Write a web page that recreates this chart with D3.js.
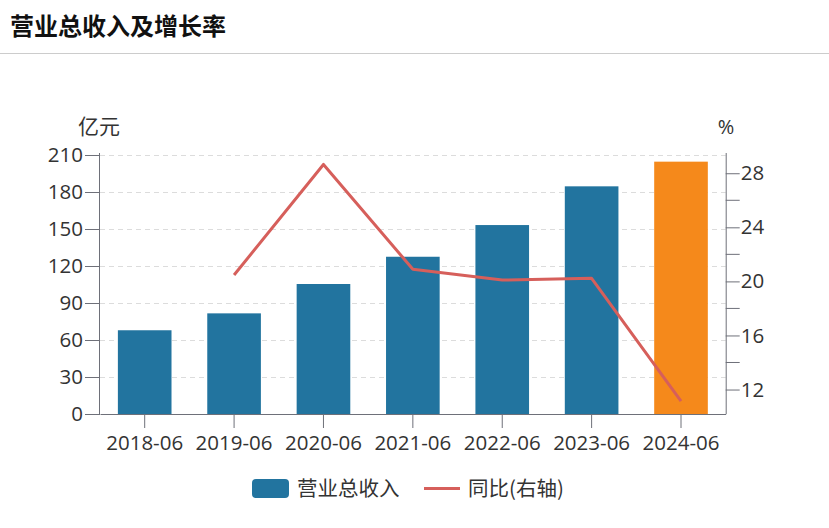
<!DOCTYPE html>
<html>
<head>
<meta charset="utf-8">
<script src="https://cdn.jsdelivr.net/npm/d3@7"></script>
<style>
  html, body { margin: 0; padding: 0; background: #fff; }
  svg { display: block; }
  text { font-family: "Open Sans", "Noto Sans CJK SC", sans-serif; }
</style>
</head>
<body>
<svg id="chart" width="829" height="528"></svg>
<script>
const categories = ["2018-06", "2019-06", "2020-06", "2021-06", "2022-06", "2023-06", "2024-06"];
const revenue = [67.9, 81.6, 105.4, 127.5, 153.2, 184.6, 204.6];
const yoy = [null, 20.47, 28.65, 20.9, 20.1, 20.23, 11.15];
const leftTicks = [0, 30, 60, 90, 120, 150, 180, 210];
const rightTicks = [12, 16, 20, 24, 28];
const rightMinorTicks = [14, 18, 22, 26];
const title = "营业总收入及增长率";
const seriesNames = ["营业总收入", "同比(右轴)"];
const unitLeft = "亿元";
const unitRight = "%";

const svg = d3.select("#chart");
const W = 829;
const L = 100, R = 725.7, T = 155, B = 414;
const blue = "#22749f", orange = "#f5891b", red = "#d65f5b";
const axisColor = "#6e7079", labelColor = "#333";
const cjk = "'Noto Sans CJK SC', sans-serif";
const FS = 20.5;

// title
svg.append("text").attr("x", 10).attr("y", 35)
  .attr("font-size", 24).attr("font-weight", "bold").attr("fill", "#111")
  .style("font-family", cjk)
  .text(title);
svg.append("line").attr("x1", 0).attr("x2", W).attr("y1", 53.5).attr("y2", 53.5)
  .attr("stroke", "#ccc").attr("stroke-width", 1);

const x = d3.scaleBand().domain(categories).range([L, R]).paddingInner(0.4).paddingOuter(0.2);
const y = d3.scaleLinear().domain([0, 210]).range([B, T]);
const y2 = d3.scaleLinear().domain([10.19, 29.35]).range([B, T]);

// grid
svg.append("g").selectAll("line").data(leftTicks.filter(d => d > 0)).join("line")
  .attr("x1", L).attr("x2", R)
  .attr("y1", d => Math.round(y(d)) + 0.5).attr("y2", d => Math.round(y(d)) + 0.5)
  .attr("stroke", "#dcdcdc").attr("stroke-dasharray", "5,4");

// bars
svg.append("g").selectAll("rect").data(categories).join("rect")
  .attr("x", d => x(d)).attr("width", x.bandwidth())
  .attr("y", (d, i) => y(revenue[i])).attr("height", (d, i) => B - y(revenue[i]))
  .attr("fill", (d, i) => i === categories.length - 1 ? orange : blue);

// line
const pts = categories.map((c, i) => [c, yoy[i]]).filter(d => d[1] != null);
svg.append("path").datum(pts)
  .attr("d", d3.line().x(d => x(d[0]) + x.bandwidth() / 2).y(d => y2(d[1])))
  .attr("fill", "none").attr("stroke", red).attr("stroke-width", 3)
  .attr("stroke-linejoin", "round");

function styleAxis(g) {
  g.selectAll(".domain").attr("stroke", axisColor);
  g.selectAll(".tick line").attr("stroke", axisColor);
  g.selectAll(".tick text").attr("fill", labelColor).attr("font-size", FS)
    .style("font-family", "'Open Sans', sans-serif");
}

// left axis
const gl = svg.append("g").attr("transform", `translate(${L},0)`)
  .call(d3.axisLeft(y).tickValues(leftTicks).tickSize(15).tickPadding(2).tickSizeOuter(0));
styleAxis(gl);

// right axis
const gr = svg.append("g").attr("transform", `translate(${R},0)`)
  .call(d3.axisRight(y2).tickValues(rightTicks).tickSize(14).tickPadding(1).tickSizeOuter(0));
styleAxis(gr);
gr.selectAll(".minor").data(rightMinorTicks).join("line").attr("class", "minor")
  .attr("x1", 0).attr("x2", 14).attr("y1", d => y2(d)).attr("y2", d => y2(d))
  .attr("stroke", axisColor);
gr.select(".domain").attr("d", `M0.5,${B}V${T - 2}`);
gl.select(".domain").attr("d", `M-0.5,${B}V${T - 2}`);

// bottom axis
const gb = svg.append("g").attr("transform", `translate(0,${B})`)
  .call(d3.axisBottom(x).tickSize(14).tickPadding(7).tickSizeOuter(0));
styleAxis(gb);

// units
svg.append("text").attr("x", 99).attr("y", 134).attr("text-anchor", "middle")
  .attr("font-size", 21).attr("fill", labelColor)
  .style("font-family", cjk).text(unitLeft);
svg.append("text").attr("x", 726).attr("y", 134).attr("text-anchor", "middle")
  .attr("font-size", 20).attr("fill", labelColor).text(unitRight);

// legend
const lg = svg.append("g");
lg.append("rect").attr("x", 252).attr("y", 479).attr("width", 37).attr("height", 19).attr("rx", 4)
  .attr("fill", blue);
lg.append("text").attr("x", 297).attr("y", 495.5).attr("font-size", 20.5).attr("fill", labelColor)
  .style("font-family", cjk).text(seriesNames[0]);
lg.append("line").attr("x1", 424).attr("x2", 460).attr("y1", 488.5).attr("y2", 488.5)
  .attr("stroke", red).attr("stroke-width", 3);
lg.append("text").attr("x", 468).attr("y", 495.5).attr("font-size", 20.5).attr("fill", labelColor)
  .style("font-family", cjk).text(seriesNames[1]);
</script>
</body>
</html>
